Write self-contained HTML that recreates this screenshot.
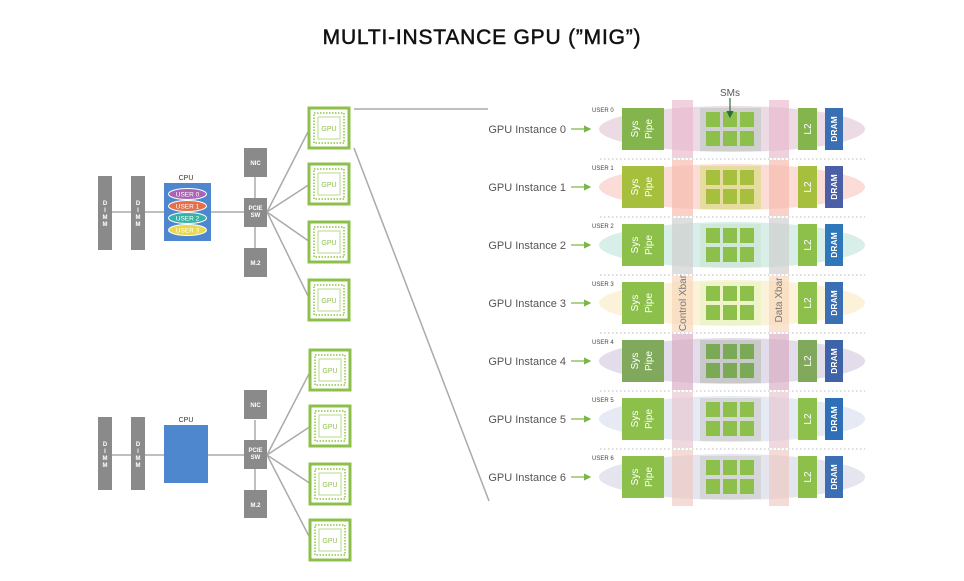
<!DOCTYPE html><html><head><style>body{margin:0;background:#fff}svg{display:block}text{font-family:"Liberation Sans",sans-serif}</style></head><body>
<svg width="964" height="581" viewBox="0 0 964 581" xmlns="http://www.w3.org/2000/svg">
<defs>
<g id="gpu"><rect x="0" y="0" width="40" height="40" fill="#fff" stroke="#8cc04b" stroke-width="3"/><rect x="5" y="5" width="30" height="30" fill="none" stroke="#a9d36e" stroke-width="2" stroke-dasharray="1.5 1.5"/><rect x="9" y="9" width="22" height="22" fill="#fff" stroke="#b8da88" stroke-width="1"/><text x="20" y="23" font-size="7" text-anchor="middle" fill="#8cc04b">GPU</text></g>
<marker id="ah" markerWidth="6" markerHeight="6" refX="5" refY="3" orient="auto"><path d="M0,0 L6,3 L0,6z" fill="#7ab648"/></marker>
<marker id="ad" markerWidth="6" markerHeight="6" refX="5" refY="3" orient="auto"><path d="M0,0 L6,3 L0,6z" fill="#2e6b3a"/></marker>
</defs>
<text x="482" y="44" font-size="21" text-anchor="middle" fill="#111" stroke="#111" stroke-width="0.5" letter-spacing="0.8">MULTI-INSTANCE GPU (”MIG”)</text>

<g stroke="#aaa" stroke-width="1.5" fill="none">
<line x1="105" y1="212" x2="244" y2="212"/><line x1="255" y1="177" x2="255" y2="248"/>
<line x1="267" y1="212" x2="310" y2="128"/><line x1="267" y1="212" x2="310" y2="184"/><line x1="267" y1="212" x2="310" y2="242"/><line x1="267" y1="212" x2="310" y2="300"/>
<line x1="105" y1="455" x2="244" y2="455"/><line x1="255" y1="420" x2="255" y2="490"/>
<line x1="267" y1="455" x2="311" y2="370"/><line x1="267" y1="455" x2="311" y2="426"/><line x1="267" y1="455" x2="311" y2="484"/><line x1="267" y1="455" x2="311" y2="540"/>
<line x1="354" y1="109" x2="488" y2="109"/><line x1="354" y1="148" x2="489" y2="501"/>
</g>
<g fill="#8a8a8a">
<rect x="98" y="176" width="14" height="74"/><rect x="131" y="176" width="14" height="74"/>
<rect x="98" y="417" width="14" height="73"/><rect x="131" y="417" width="14" height="73"/>
<rect x="244" y="148" width="23" height="29"/><rect x="244" y="198" width="23" height="29"/><rect x="244" y="248" width="23" height="29"/>
<rect x="244" y="390" width="23" height="29"/><rect x="244" y="440" width="23" height="29"/><rect x="244" y="490" width="23" height="28"/>
</g>
<g fill="#fff" font-size="6" text-anchor="middle" font-weight="bold">
<text x="105" y="205">D</text><text x="105" y="212">I</text><text x="105" y="219">M</text><text x="105" y="226">M</text>
<text x="138" y="205">D</text><text x="138" y="212">I</text><text x="138" y="219">M</text><text x="138" y="226">M</text>
<text x="105" y="446">D</text><text x="105" y="453">I</text><text x="105" y="460">M</text><text x="105" y="467">M</text>
<text x="138" y="446">D</text><text x="138" y="453">I</text><text x="138" y="460">M</text><text x="138" y="467">M</text>
<text x="255.5" y="165">NIC</text><text x="255.5" y="210">PCIE</text><text x="255.5" y="217">SW</text><text x="255.5" y="265">M.2</text>
<text x="255.5" y="407">NIC</text><text x="255.5" y="452">PCIE</text><text x="255.5" y="459">SW</text><text x="255.5" y="507">M.2</text>
</g>
<text x="186" y="180" font-size="7" text-anchor="middle" fill="#333">CPU</text>
<rect x="164" y="183" width="47" height="58" fill="#4f87cf"/>
<g stroke="#fff" stroke-width="1"><ellipse cx="187.5" cy="194" rx="19" ry="5.5" fill="#a965b2"/><ellipse cx="187.5" cy="206" rx="19" ry="5.5" fill="#e4704a"/><ellipse cx="187.5" cy="218" rx="19" ry="5.5" fill="#36b3a6"/><ellipse cx="187.5" cy="230" rx="19" ry="5.5" fill="#e8d84a"/></g>
<g font-size="6.5" fill="#fff" text-anchor="middle"><text x="187.5" y="196.5">USER 0</text><text x="187.5" y="208.5">USER 1</text><text x="187.5" y="220.5">USER 2</text><text x="187.5" y="232.5">USER 3</text></g>
<text x="186" y="422" font-size="7" text-anchor="middle" fill="#333">CPU</text>
<rect x="164" y="425" width="44" height="58" fill="#4f87cf"/>
<use href="#gpu" x="309" y="108"/><use href="#gpu" x="309" y="164"/><use href="#gpu" x="309" y="222"/><use href="#gpu" x="309" y="280"/>
<use href="#gpu" x="310" y="350"/><use href="#gpu" x="310" y="406"/><use href="#gpu" x="310" y="464"/><use href="#gpu" x="310" y="520"/>

<ellipse cx="732" cy="129" rx="133" ry="23" fill="#ecdbe5"/>
<ellipse cx="732" cy="187" rx="133" ry="23" fill="#fcdcd6"/>
<ellipse cx="732" cy="245" rx="133" ry="23" fill="#d8eee8"/>
<ellipse cx="732" cy="303" rx="133" ry="23" fill="#fcf2da"/>
<ellipse cx="732" cy="361" rx="133" ry="23" fill="#e3dcea"/>
<ellipse cx="732" cy="419" rx="133" ry="23" fill="#e6eaf4"/>
<ellipse cx="732" cy="477" rx="133" ry="23" fill="#e4e5ef"/>
<g opacity="0.65">
<rect x="672" y="100" width="21" height="58" fill="#eab8cc"/><rect x="769" y="100" width="20" height="58" fill="#eab8cc"/>
<rect x="672" y="160" width="21" height="56" fill="#f7b9ad"/><rect x="769" y="160" width="20" height="56" fill="#f7b9ad"/>
<rect x="672" y="218" width="21" height="56" fill="#cfcdcd"/><rect x="769" y="218" width="20" height="56" fill="#cfcdcd"/>
<rect x="672" y="276" width="21" height="56" fill="#f8d5b8"/><rect x="769" y="276" width="20" height="56" fill="#f8d5b8"/>
<rect x="672" y="334" width="21" height="56" fill="#d9aac2"/><rect x="769" y="334" width="20" height="56" fill="#d9aac2"/>
<rect x="672" y="392" width="21" height="56" fill="#e8c5cf"/><rect x="769" y="392" width="20" height="56" fill="#e8c5cf"/>
<rect x="672" y="450" width="21" height="56" fill="#f0c8c0"/><rect x="769" y="450" width="20" height="56" fill="#f0c8c0"/>
</g>
<g stroke="#bbb" stroke-width="1" stroke-dasharray="1.5 2.5">
<line x1="600" y1="159" x2="865" y2="159"/><line x1="600" y1="217" x2="865" y2="217"/><line x1="600" y1="275" x2="865" y2="275"/><line x1="600" y1="333" x2="865" y2="333"/><line x1="600" y1="391" x2="865" y2="391"/><line x1="600" y1="449" x2="865" y2="449"/>
</g>

<g font-size="11" fill="#555" text-anchor="end">
<text x="566" y="133">GPU Instance 0</text><text x="566" y="191">GPU Instance 1</text><text x="566" y="249">GPU Instance 2</text><text x="566" y="307">GPU Instance 3</text><text x="566" y="365">GPU Instance 4</text><text x="566" y="423">GPU Instance 5</text><text x="566" y="481">GPU Instance 6</text>
</g>
<g stroke="#7ab648" stroke-width="1.2" marker-end="url(#ah)">
<line x1="571" y1="129" x2="590" y2="129"/><line x1="571" y1="187" x2="590" y2="187"/><line x1="571" y1="245" x2="590" y2="245"/><line x1="571" y1="303" x2="590" y2="303"/><line x1="571" y1="361" x2="590" y2="361"/><line x1="571" y1="419" x2="590" y2="419"/><line x1="571" y1="477" x2="590" y2="477"/>
</g>
<g font-size="6" fill="#444">
<text x="592" y="112">USER 0</text><text x="592" y="170">USER 1</text><text x="592" y="228">USER 2</text><text x="592" y="286">USER 3</text><text x="592" y="344">USER 4</text><text x="592" y="402">USER 5</text><text x="592" y="460">USER 6</text>
</g>

<g>
<rect x="622" y="108" width="42" height="42" fill="#84b54c"/><rect x="622" y="166" width="42" height="42" fill="#a6c03e"/><rect x="622" y="224" width="42" height="42" fill="#8cc04b"/><rect x="622" y="282" width="42" height="42" fill="#8cc04b"/><rect x="622" y="340" width="42" height="42" fill="#80a95c"/><rect x="622" y="398" width="42" height="42" fill="#8cc04b"/><rect x="622" y="456" width="42" height="42" fill="#8cc04b"/>
<rect x="798" y="108" width="19" height="42" fill="#84b54c"/><rect x="798" y="166" width="19" height="42" fill="#a6c03e"/><rect x="798" y="224" width="19" height="42" fill="#8cc04b"/><rect x="798" y="282" width="19" height="42" fill="#8cc04b"/><rect x="798" y="340" width="19" height="42" fill="#80a95c"/><rect x="798" y="398" width="19" height="42" fill="#8cc04b"/><rect x="798" y="456" width="19" height="42" fill="#8cc04b"/>
<rect x="825" y="108" width="18" height="42" fill="#3b6fb3"/><rect x="825" y="166" width="18" height="42" fill="#4a5fa8"/><rect x="825" y="224" width="18" height="42" fill="#2e77bb"/><rect x="825" y="282" width="18" height="42" fill="#3b6fb3"/><rect x="825" y="340" width="18" height="42" fill="#3f63a8"/><rect x="825" y="398" width="18" height="42" fill="#2f6fb8"/><rect x="825" y="456" width="18" height="42" fill="#3a6fb3"/>
<rect x="700" y="108" width="61" height="43" fill="#cfcfcf"/><rect x="700" y="166" width="61" height="43" fill="#e6dca0"/><rect x="700" y="224" width="61" height="43" fill="#cfe8d9"/><rect x="700" y="282" width="61" height="43" fill="#eef3c9"/><rect x="700" y="340" width="61" height="43" fill="#c9c9c9"/><rect x="700" y="398" width="61" height="43" fill="#d4d6d8"/><rect x="700" y="456" width="61" height="43" fill="#d4d6d8"/>
</g>
<g fill="#8cc04b">
<path d="M706 112h14v15h-14zM723 112h14v15h-14zM740 112h14v15h-14zM706 131h14v15h-14zM723 131h14v15h-14zM740 131h14v15h-14z"/>
<path d="M706 170h14v15h-14zM723 170h14v15h-14zM740 170h14v15h-14zM706 189h14v15h-14zM723 189h14v15h-14zM740 189h14v15h-14z" fill="#a6c03e"/>
<path d="M706 228h14v15h-14zM723 228h14v15h-14zM740 228h14v15h-14zM706 247h14v15h-14zM723 247h14v15h-14zM740 247h14v15h-14z"/>
<path d="M706 286h14v15h-14zM723 286h14v15h-14zM740 286h14v15h-14zM706 305h14v15h-14zM723 305h14v15h-14zM740 305h14v15h-14z"/>
<path d="M706 344h14v15h-14zM723 344h14v15h-14zM740 344h14v15h-14zM706 363h14v15h-14zM723 363h14v15h-14zM740 363h14v15h-14z" fill="#7aaa55"/>
<path d="M706 402h14v15h-14zM723 402h14v15h-14zM740 402h14v15h-14zM706 421h14v15h-14zM723 421h14v15h-14zM740 421h14v15h-14z"/>
<path d="M706 460h14v15h-14zM723 460h14v15h-14zM740 460h14v15h-14zM706 479h14v15h-14zM723 479h14v15h-14zM740 479h14v15h-14z"/>
</g>
<g fill="#fff" font-size="10" text-anchor="middle">
<text transform="translate(638,129) rotate(-90)">Sys</text><text transform="translate(652,129) rotate(-90)">Pipe</text>
<text transform="translate(638,187) rotate(-90)">Sys</text><text transform="translate(652,187) rotate(-90)">Pipe</text>
<text transform="translate(638,245) rotate(-90)">Sys</text><text transform="translate(652,245) rotate(-90)">Pipe</text>
<text transform="translate(638,303) rotate(-90)">Sys</text><text transform="translate(652,303) rotate(-90)">Pipe</text>
<text transform="translate(638,361) rotate(-90)">Sys</text><text transform="translate(652,361) rotate(-90)">Pipe</text>
<text transform="translate(638,419) rotate(-90)">Sys</text><text transform="translate(652,419) rotate(-90)">Pipe</text>
<text transform="translate(638,477) rotate(-90)">Sys</text><text transform="translate(652,477) rotate(-90)">Pipe</text>
<text transform="translate(811,129) rotate(-90)">L2</text><text transform="translate(811,187) rotate(-90)">L2</text><text transform="translate(811,245) rotate(-90)">L2</text><text transform="translate(811,303) rotate(-90)">L2</text><text transform="translate(811,361) rotate(-90)">L2</text><text transform="translate(811,419) rotate(-90)">L2</text><text transform="translate(811,477) rotate(-90)">L2</text>
</g>
<g fill="#fff" font-size="8.5" text-anchor="middle" font-weight="bold">
<text transform="translate(837,129) rotate(-90)">DRAM</text><text transform="translate(837,187) rotate(-90)">DRAM</text><text transform="translate(837,245) rotate(-90)">DRAM</text><text transform="translate(837,303) rotate(-90)">DRAM</text><text transform="translate(837,361) rotate(-90)">DRAM</text><text transform="translate(837,419) rotate(-90)">DRAM</text><text transform="translate(837,477) rotate(-90)">DRAM</text>
</g>
<text transform="translate(686,303) rotate(-90)" font-size="10" text-anchor="middle" fill="#777">Control Xbar</text>
<text transform="translate(782,300) rotate(-90)" font-size="10" text-anchor="middle" fill="#777">Data Xbar</text>
<text x="730" y="96" font-size="10" text-anchor="middle" fill="#555">SMs</text>
<line x1="730" y1="98" x2="730" y2="117" stroke="#2e6b3a" stroke-width="1.2" marker-end="url(#ad)"/>
</svg>
</body></html>
